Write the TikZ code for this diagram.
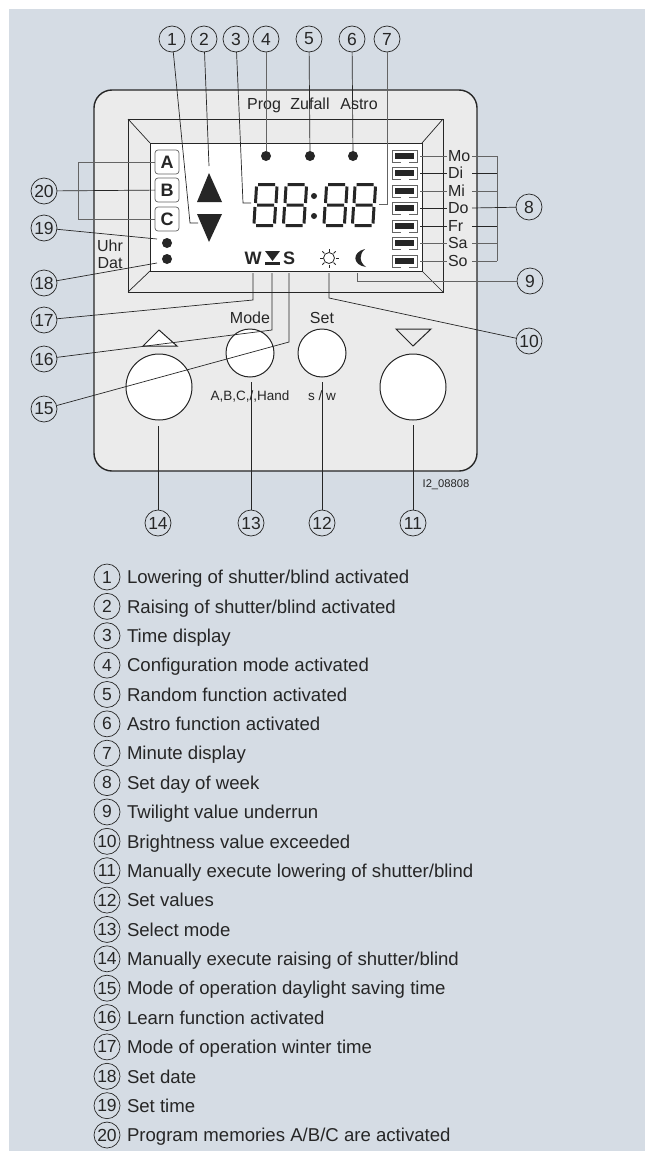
\documentclass[tikz,border=0pt]{standalone}
\usepackage{fontspec}
\setmainfont{Liberation Sans}
\usetikzlibrary{positioning,calc}
\definecolor{pagebg}{RGB}{213,220,228}
\definecolor{housing}{RGB}{235,235,235}
\definecolor{ink}{RGB}{38,38,38}
\definecolor{inkgray}{RGB}{100,100,100}
\newcommand{\fpx}[1]{\fontsize{#1pt}{#1pt}\selectfont}

\begin{document}
\begin{tikzpicture}[
    x=1pt, y=-1pt,
    font=\fpx{16},
    text=ink,
    num/.style={draw=ink, circle, line width=0.7pt, minimum size=26pt,
                inner sep=0pt, outer sep=0pt, font=\fpx{17.5}},
    lead/.style={draw=ink, line width=0.7pt},
    leadg/.style={draw=inkgray, line width=1pt},
    panel/.style={inner sep=0pt, outer sep=0pt},
    lab/.style={inner sep=0pt, outer sep=0pt, text height=11.5pt, text depth=0pt},
    smalllab/.style={lab, font=\fpx{13.5}, text height=9.7pt},
    knob/.style={draw=ink, circle, fill=white, line width=1pt, inner sep=0pt,
                 outer sep=0pt},
    bigknob/.style={knob, minimum size=66pt},
    smallknob/.style={knob, minimum size=48pt},
    prog/.style={draw=inkgray, fill=white, rounded corners=3pt, line width=0.7pt,
                 minimum size=24pt, inner sep=0pt, outer sep=0pt,
                 font=\fpx{18}\bfseries},
    lamp/.style={circle, fill=ink, minimum size=10pt, inner sep=0pt, outer sep=0pt},
    daybox/.style={draw=inkgray, fill=white, line width=1pt, minimum width=25pt,
                   minimum height=12pt, inner sep=0pt, outer sep=0pt},
    daybar/.style={fill=ink, minimum width=19pt, minimum height=6pt, inner sep=0pt},
    daygap/.style={fill=white, minimum width=8pt, minimum height=1.6pt, inner sep=0pt},
    daylab/.style={lab},
    keytext/.style={inner sep=0pt, outer sep=0pt, font=\fpx{18.6},
                    text height=13.4pt, text depth=0pt},
    seg/.style={draw=ink, line width=3pt},
    segdigit/.pic={
      \draw[seg] (5,1.5) -- (22,1.5)
                 (3.5,3.5) -- (2.5,20) (24,3.5) -- (23,20)
                 (4,22) -- (21,22)
                 (2,24) -- (1,40.5) (22.5,24) -- (21.5,40.5)
                 (3,42.5) -- (20,42.5);
    },
  ]
  \useasboundingbox (0,0) rectangle (645,1151);
  \fill[pagebg] (9,9) rectangle (645,1151);

  % ---------------------------------------------------------------
  % Housing, display frame and LCD
  % ---------------------------------------------------------------
  \draw[draw=ink, fill=housing, line width=1.4pt, rounded corners=18pt]
    (94,90) rectangle (477,471);
  \node[panel, draw=ink, line width=1pt, minimum width=315pt, minimum height=173pt]
    (frame) at (285.5,205.5) {};
  \node[panel, draw=ink, line width=1pt, fill=white, minimum width=272pt,
        minimum height=128pt] (lcd) at (286,207) {};
  \draw[lead] (frame.north west) -- (lcd.north west);
  \draw[lead] (frame.north east) -- (lcd.north east);
  \draw[lead] (frame.south west) -- (lcd.south west);
  \draw[lead] (frame.south east) -- (lcd.south east);

  \node[lab] (prog) at (264,104) {Prog};
  \node[lab] (zufall) at (310,104) {Zufall};
  \node[lab] (astro) at (359,104) {Astro};
  \node[lab] (uhr) at (110,246) {Uhr};
  \node[lab] (dat) at (110,262.5) {Dat};
  \node[lab] (mode) at (250,318) {Mode};
  \node[lab] (set) at (322,318) {Set};
  \node[smalllab] (hand) at (250,395.7) {A,B,C,/,Hand};
  \node[smalllab] (sw) at (322,395.7) {s / w};
  \node[lab, font=\fpx{11.2}, text height=8pt] (ident) at (446,483) {I2\_08808};

  % ---------------------------------------------------------------
  % LCD content
  % ---------------------------------------------------------------
  \node[prog] (A) at (167,162) {A};
  \node[prog] (B) at (167,190) {B};
  \node[prog] (C) at (167,219) {C};
  \node[lamp] (time) at (167,243) {};
  \node[lamp] (date) at (167,259) {};
  \node[lamp] (lprog) at (266,156) {};
  \node[lamp] (lzufall) at (310,156) {};
  \node[lamp] (lastro) at (353,156) {};

  \fill[ink] (209,173) -- (222,202) -- (197,202) -- cycle;
  \fill[ink] (209,242) -- (222,214) -- (197,214) -- cycle;

  \pic at (253,183) {segdigit};
  \pic at (282.5,183) {segdigit};
  \pic at (323,183) {segdigit};
  \pic at (351.5,183) {segdigit};
  \fill[ink] (314,196) circle (3);
  \fill[ink] (314,216) circle (3);

  \node[font=\fpx{18}\bfseries, inner sep=0pt] (W) at (253,258) {W};
  \node[font=\fpx{18}\bfseries, inner sep=0pt] (S) at (289,258) {S};
  \fill[ink] (265,251) -- (280,251) -- (272.5,261) -- cycle;
  \fill[ink] (265,262) rectangle (280,265);

  % sun and moon
  \coordinate (sun) at (329,258);
  \draw[ink, line width=0.8pt] (sun) circle (5.5);
  \foreach \a in {0,45,...,315}
    \draw[ink, line width=0.8pt] ($(sun)+(\a:6.5)$) -- ($(sun)+(\a:9.5)$);
  \fill[ink] (365,249) .. controls (352,252) and (352,265) .. (366,267)
             .. controls (359,262) and (359,254) .. (365,249);

  % days of the week
  \node[daybox] (bmo) at (404.5,156) {};
  \node[daybox] (bdi) at (404.5,173) {};
  \node[daybox] (bmi) at (404.5,191) {};
  \node[daybox] (bdo) at (404.5,208) {};
  \node[daybox] (bfr) at (404.5,226) {};
  \node[daybox] (bsa) at (404.5,243) {};
  \node[daybox] (bso) at (404.5,261) {};
  \node[daybar] at (bmo) {}; \node[daygap] at (bmo.south) {};
  \node[daybar] at (bdi) {}; \node[daygap] at (bdi.south) {};
  \node[daybar] at (bmi) {}; \node[daygap] at (bmi.south) {};
  \node[daybar] at (bdo) {}; \node[daygap] at (bdo.south) {};
  \node[daybar] at (bfr) {}; \node[daygap] at (bfr.south) {};
  \node[daybar] at (bsa) {}; \node[daygap] at (bsa.south) {};
  \node[daybar] at (bso) {}; \node[daygap] at (bso.south) {};
  \node[daylab, right=31pt of bmo] (mo) {Mo};
  \node[daylab, right=31pt of bdi] (di) {Di};
  \node[daylab, right=31pt of bmi] (mi) {Mi};
  \node[daylab, right=31pt of bdo] (do) {Do};
  \node[daylab, right=31pt of bfr] (fr) {Fr};
  \node[daylab, right=31pt of bsa] (sa) {Sa};
  \node[daylab, right=31pt of bso] (so) {So};

  % ---------------------------------------------------------------
  % Keys
  % ---------------------------------------------------------------
  \node[bigknob] (kup) at (159,387) {};
  \node[bigknob] (kdown) at (413,387) {};
  \node[smallknob] (kmode) at (250,353) {};
  \node[smallknob] (kset) at (322,353) {};
  \draw[draw=ink, fill=white, line width=1pt] (159,330) -- (177,346) -- (143,346) -- cycle;
  \draw[draw=ink, fill=housing, line width=1pt] (413,346) -- (431,329) -- (396,329) -- cycle;

  % ---------------------------------------------------------------
  % Callout numbers around the device
  % ---------------------------------------------------------------
  \node[num] (n1) at (172,39) {1};
  \node[num] (n2) at (204,39) {2};
  \node[num] (n3) at (236,39) {3};
  \node[num] (n4) at (266,39) {4};
  \node[num] (n5) at (309,39) {5};
  \node[num] (n6) at (352,39) {6};
  \node[num] (n7) at (387,39) {7};
  \node[num] (n8) at (529,207) {8};
  \node[num] (n9) at (530,281) {9};
  \node[num] (n10) at (529,341) {10};
  \node[num] (n11) at (413,523) {11};
  \node[num] (n12) at (322,523) {12};
  \node[num] (n13) at (251,523) {13};
  \node[num] (n14) at (158,523) {14};
  \node[num] (n15) at (44,409) {15};
  \node[num] (n16) at (44,359) {16};
  \node[num] (n17) at (44,320) {17};
  \node[num] (n18) at (44,283) {18};
  \node[num] (n19) at (44,228) {19};
  \node[num] (n20) at (44,191) {20};

  % free ends and bends of the leaders
  \coordinate (e1a) at (190,223);
  \coordinate (e1b) at (198,223);
  \coordinate (e2) at (209,166);
  \coordinate (e3a) at (243,203);
  \coordinate (e3b) at (251,203);
  \coordinate (e7a) at (387,204);
  \coordinate (e7b) at (379,204);
  \coordinate (e9a) at (357,281);
  \coordinate (e9b) at (357,273);
  \coordinate (e10a) at (329,298);
  \coordinate (e10b) at (329,273);
  \coordinate (e11) at (413,425);
  \coordinate (e12) at (322,382);
  \coordinate (e13) at (251,382);
  \coordinate (e14) at (158,426);
  \coordinate (e15a) at (289,342);
  \coordinate (e15b) at (289,273);
  \coordinate (e16a) at (272,330);
  \coordinate (e16b) at (272,273);
  \coordinate (e17a) at (253,300);
  \coordinate (e17b) at (253,273);
  \coordinate (e18) at (157,263);
  \coordinate (e19) at (157,239);
  \coordinate (brA) at (78,162);
  \coordinate (brC) at (78,219);

  \draw[lead] (n1) -- (e1a) -- (e1b);
  \draw[lead] (n2) -- (e2);
  \draw[lead] (n3) -- (e3a) -- (e3b);
  \draw[leadg] (n4) -- (lprog);
  \draw[lead] (n5) -- (lzufall);
  \draw[lead] (n6) -- (lastro);
  \draw[leadg] (n7) -- (e7a) -- (e7b);
  \draw[leadg] (n9) -- (e9a) -- (e9b);
  \draw[lead] (n10) -- (e10a) -- (e10b);
  \draw[lead] (n11) -- (e11);
  \draw[lead] (n12) -- (e12);
  \draw[lead] (n13) -- (e13);
  \draw[lead] (n14) -- (e14);
  \draw[lead] (n15) -- (e15a) -- (e15b);
  \draw[lead] (n16) -- (e16a) -- (e16b);
  \draw[lead] (n17) -- (e17a) -- (e17b);
  \draw[lead] (n18) -- (e18);
  \draw[lead] (n19) -- (e19);
  \draw[lead] (n20) -- (B);
  \draw[leadg] (A) -- (brA) -- (brC) -- (C);

  % day bracket
  \coordinate (smo) at (472,156);
  \coordinate (sdi) at (472,173);
  \coordinate (smi) at (472,191);
  \coordinate (sdo) at (472,208);
  \coordinate (sfr) at (472,226);
  \coordinate (ssa) at (472,243);
  \coordinate (sso) at (472,261);
  \coordinate (tmo) at (497,156);
  \coordinate (tdi) at (497,173);
  \coordinate (tmi) at (497,191);
  \coordinate (tfr) at (497,226);
  \coordinate (tsa) at (497,243);
  \coordinate (tso) at (497,261);

  \draw[leadg, shorten <=3pt, shorten >=1pt] (bmo) -- (mo);
  \draw[lead, shorten <=3pt, shorten >=1pt] (bdi) -- (di);
  \draw[leadg, shorten <=3pt, shorten >=1pt] (bmi) -- (mi);
  \draw[lead, shorten <=3pt, shorten >=1pt] (bdo) -- (do);
  \draw[lead, shorten <=3pt, shorten >=1pt] (bfr) -- (fr);
  \draw[leadg, shorten <=3pt, shorten >=1pt] (bsa) -- (sa);
  \draw[leadg, shorten <=3pt, shorten >=1pt] (bso) -- (so);
  \draw[leadg] (tmo) -- (tso);
  \draw[leadg] (smo) -- (tmo);
  \draw[lead] (sdi) -- (tdi);
  \draw[leadg] (smi) -- (tmi);
  \draw[lead] (sdo) -- (n8);
  \draw[lead] (sfr) -- (tfr);
  \draw[leadg] (ssa) -- (tsa);
  \draw[leadg] (sso) -- (tso);

  % ---------------------------------------------------------------
  % Key to the numbers
  % ---------------------------------------------------------------
  \node[num] (k1) at (107,577) {1};
  \node[num, below=3.37pt of k1] (k2) {2};
  \node[num, below=3.37pt of k2] (k3) {3};
  \node[num, below=3.37pt of k3] (k4) {4};
  \node[num, below=3.37pt of k4] (k5) {5};
  \node[num, below=3.37pt of k5] (k6) {6};
  \node[num, below=3.37pt of k6] (k7) {7};
  \node[num, below=3.37pt of k7] (k8) {8};
  \node[num, below=3.37pt of k8] (k9) {9};
  \node[num, below=3.37pt of k9] (k10) {10};
  \node[num, below=3.37pt of k10] (k11) {11};
  \node[num, below=3.37pt of k11] (k12) {12};
  \node[num, below=3.37pt of k12] (k13) {13};
  \node[num, below=3.37pt of k13] (k14) {14};
  \node[num, below=3.37pt of k14] (k15) {15};
  \node[num, below=3.37pt of k15] (k16) {16};
  \node[num, below=3.37pt of k16] (k17) {17};
  \node[num, below=3.37pt of k17] (k18) {18};
  \node[num, below=3.37pt of k18] (k19) {19};
  \node[num, below=3.37pt of k19] (k20) {20};

  \node[keytext, right=7pt of k1] {Lowering of shutter/blind activated};
  \node[keytext, right=7pt of k2] {Raising of shutter/blind activated};
  \node[keytext, right=7pt of k3] {Time display};
  \node[keytext, right=7pt of k4] {Configuration mode activated};
  \node[keytext, right=7pt of k5] {Random function activated};
  \node[keytext, right=7pt of k6] {Astro function activated};
  \node[keytext, right=7pt of k7] {Minute display};
  \node[keytext, right=7pt of k8] {Set day of week};
  \node[keytext, right=7pt of k9] {Twilight value underrun};
  \node[keytext, right=7pt of k10] {Brightness value exceeded};
  \node[keytext, right=7pt of k11] {Manually execute lowering of shutter/blind};
  \node[keytext, right=7pt of k12] {Set values};
  \node[keytext, right=7pt of k13] {Select mode};
  \node[keytext, right=7pt of k14] {Manually execute raising of shutter/blind};
  \node[keytext, right=7pt of k15] {Mode of operation daylight saving time};
  \node[keytext, right=7pt of k16] {Learn function activated};
  \node[keytext, right=7pt of k17] {Mode of operation winter time};
  \node[keytext, right=7pt of k18] {Set date};
  \node[keytext, right=7pt of k19] {Set time};
  \node[keytext, right=7pt of k20] {Program memories A/B/C are activated};
\end{tikzpicture}
\end{document}
